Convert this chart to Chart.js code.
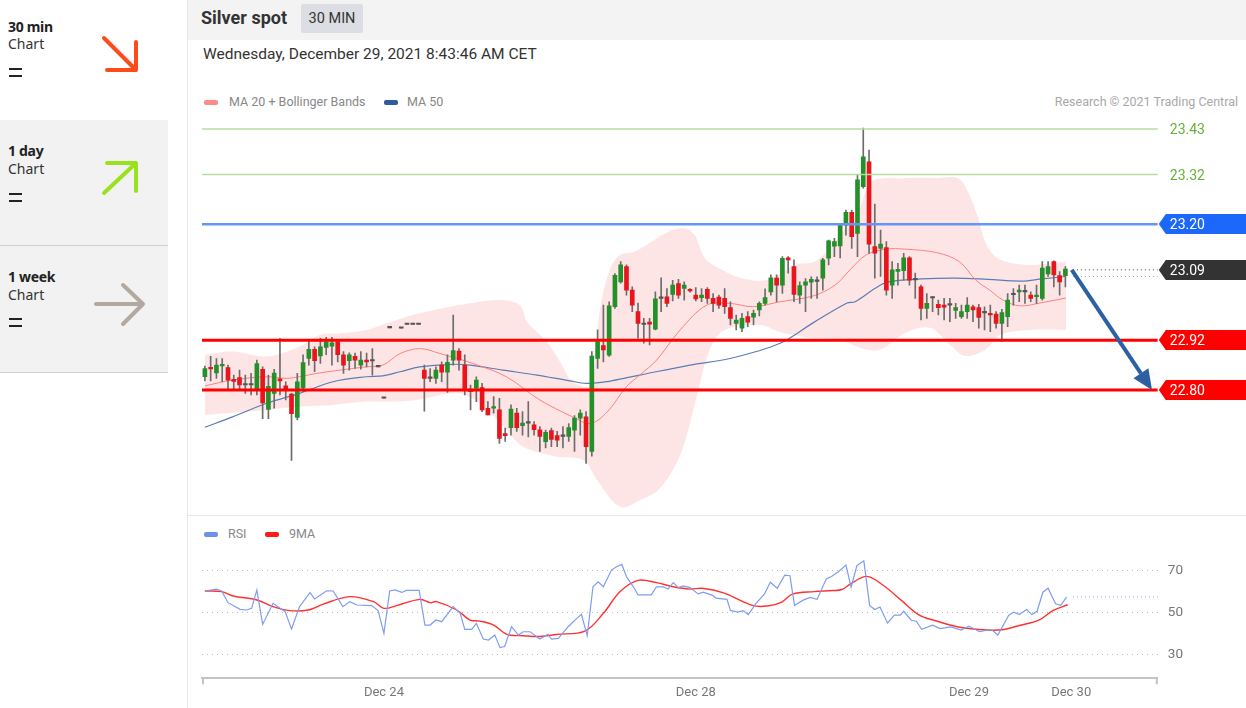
<!DOCTYPE html>
<html>
<head>
<meta charset="utf-8">
<script src="https://cdn.jsdelivr.net/npm/chart.js@4.4.1/dist/chart.umd.min.js"></script>
<style>
html, body { margin: 0; padding: 0; background: #fff; width: 1246px; height: 708px; overflow: hidden; font-family: Roboto, "Liberation Sans", sans-serif; }
.abs { position: absolute; }
.side { left: 0; width: 168px; }
.tf-name { left: 8px; font: bold 14px "Noto Sans", sans-serif; color: #222; letter-spacing: -0.3px; }
.tf-sub { left: 8px; font: 14px "Noto Sans", sans-serif; color: #333; }
.eq { left: 9px; width: 13px; height: 2px; background: #222; }
.sw { width: 14px; height: 5px; border-radius: 2px; }
.leg { font-size: 12.5px; color: #888; }
</style>
</head>
<body>
<!-- left timeframe panel -->
<div class="abs side" style="top:0;height:120px;background:#fff"></div>
<div class="abs side" style="top:120px;height:125px;background:#f2f2f2;border-bottom:1px solid #cfcfcf"></div>
<div class="abs side" style="top:246px;height:126px;background:#f2f2f2;border-bottom:1px solid #cfcfcf"></div>

<div class="abs tf-name" style="top:17px">30 min</div>
<div class="abs tf-sub" style="top:34px">Chart</div>
<div class="abs eq" style="top:68px"></div><div class="abs eq" style="top:75px"></div>

<div class="abs tf-name" style="top:141px">1 day</div>
<div class="abs tf-sub" style="top:159px">Chart</div>
<div class="abs eq" style="top:193px"></div><div class="abs eq" style="top:200px"></div>

<div class="abs tf-name" style="top:267px">1 week</div>
<div class="abs tf-sub" style="top:285px">Chart</div>
<div class="abs eq" style="top:318px"></div><div class="abs eq" style="top:325px"></div>

<svg class="abs" style="left:0;top:0" width="168" height="372">
  <g fill="none" stroke-width="4" stroke-linecap="round" stroke-linejoin="round">
    <path d="M104 38 L136 70 M136 42 L136 70 L107 70" stroke="#ff4a1c"/>
    <path d="M104 193 L136 163 M107 163 L136 163 L136 191" stroke="#9ae21d"/>
    <path d="M96 304 L143 304 M123 285 L143 304 L123 324" stroke="#b3a99f"/>
  </g>
</svg>

<div class="abs" style="left:187px;top:0;width:1px;height:708px;background:#e6e6e6"></div>

<!-- header -->
<div class="abs" style="left:188px;top:0;width:1058px;height:40px;background:#f3f3f3"></div>
<div class="abs" style="left:201px;top:7px;font-weight:bold;font-size:18px;color:#333">Silver spot</div>
<div class="abs" style="left:301px;top:4px;width:62px;height:29px;background:#dcdee3;border-radius:2px;font-size:14.5px;color:#333;text-align:center;line-height:29px">30 MIN</div>
<div class="abs" style="left:203px;top:45px;font-size:15.5px;color:#333">Wednesday, December 29, 2021 8:43:46 AM CET</div>

<!-- price legend -->
<div class="abs sw" style="left:204px;top:100px;background:#ff8a8a"></div>
<div class="abs leg" style="left:229px;top:94px">MA 20 + Bollinger Bands</div>
<div class="abs sw" style="left:384px;top:100px;background:#2f5a9e"></div>
<div class="abs leg" style="left:407px;top:94px">MA 50</div>
<div class="abs leg" style="right:8px;top:94px;color:#a8a8a8">Research © 2021 Trading Central</div>

<canvas id="price" class="abs" style="left:188px;top:112px" width="1058" height="403"></canvas>

<div class="abs" style="left:188px;top:515px;width:1058px;height:1px;background:#e8e8e8"></div>

<!-- rsi legend -->
<div class="abs sw" style="left:204px;top:532px;background:#6d8ff0"></div>
<div class="abs leg" style="left:228px;top:526px">RSI</div>
<div class="abs sw" style="left:265px;top:532px;background:#ff1a1a"></div>
<div class="abs leg" style="left:289px;top:526px">9MA</div>

<canvas id="rsi" class="abs" style="left:188px;top:515px" width="1058" height="193"></canvas>

<script>
// 30 min candles, one slot per bar (slot 33 has no bar)
const opens = [22.832,22.855,22.841,22.858,22.854,22.826,22.830,22.812,22.812,22.800,
  22.850,22.753,22.792,22.827,22.810,22.790,22.734,22.805,22.876,22.898,
  22.882,22.903,22.906,22.916,22.885,22.871,22.881,22.860,22.872,22.870,
  22.856,22.780,22.950,null,22.949,22.958,22.958,22.958,22.848,22.828,
  22.828,22.860,22.843,22.872,22.894,22.860,22.802,22.804,22.806,22.756,
  22.756,22.752,22.695,22.709,22.744,22.714,22.720,22.716,22.704,22.675,
  22.702,22.690,22.688,22.688,22.703,22.732,22.735,22.652,22.876,22.907,
  22.884,23.001,23.061,23.098,23.041,22.989,22.958,22.964,22.947,23.021,
  23.025,23.031,23.057,23.045,23.043,23.029,23.023,23.043,23.021,23.024,
  23.021,22.999,22.961,22.949,22.977,22.976,22.993,23.009,23.037,23.070,
  23.053,23.119,23.098,23.029,23.053,23.060,23.062,23.070,23.118,23.147,
  23.148,23.198,23.229,23.178,23.291,23.351,23.146,23.142,23.144,23.053,
  23.086,23.088,23.119,23.066,23.049,22.997,23.022,23.007,23.005,23.005,
  22.992,22.977,22.989,23.001,22.999,22.986,22.985,22.983,22.961,22.977,
  23.030,23.037,23.037,23.029,23.025,23.021,23.080,23.110,23.076,23.076];
const highs = [22.858,22.881,22.876,22.876,22.860,22.836,22.848,22.836,22.840,22.872,
  22.856,22.836,22.850,22.925,22.820,22.792,22.840,22.885,22.921,22.904,
  22.925,22.927,22.927,22.919,22.893,22.890,22.889,22.893,22.889,22.900,
  22.856,22.780,22.950,null,22.949,22.958,22.958,22.958,22.860,22.852,
  22.856,22.868,22.885,22.981,22.900,22.885,22.812,22.832,22.816,22.772,
  22.784,22.780,22.708,22.764,22.756,22.748,22.772,22.724,22.712,22.703,
  22.708,22.700,22.712,22.719,22.738,22.752,22.748,22.893,22.945,23.005,
  23.013,23.081,23.110,23.102,23.049,23.010,22.973,22.973,23.037,23.071,
  23.045,23.065,23.067,23.061,23.045,23.047,23.045,23.047,23.033,23.029,
  23.045,23.013,22.981,22.985,22.989,22.993,23.013,23.044,23.078,23.078,
  23.122,23.122,23.114,23.061,23.069,23.073,23.073,23.118,23.162,23.166,
  23.202,23.234,23.234,23.319,23.432,23.379,23.249,23.186,23.158,23.110,
  23.106,23.130,23.122,23.082,23.053,23.033,23.025,23.017,23.021,23.021,
  23.009,23.005,23.023,23.005,23.007,23.001,23.005,22.989,22.995,23.033,
  23.045,23.053,23.053,23.037,23.053,23.110,23.110,23.112,23.086,23.098];
const lows = [22.822,22.822,22.828,22.820,22.802,22.802,22.802,22.792,22.788,22.788,
  22.731,22.731,22.756,22.788,22.776,22.630,22.728,22.796,22.860,22.844,
  22.864,22.885,22.860,22.868,22.840,22.848,22.852,22.850,22.856,22.836,
  22.856,22.780,22.950,null,22.949,22.958,22.958,22.958,22.749,22.820,
  22.816,22.820,22.794,22.860,22.848,22.788,22.752,22.772,22.748,22.740,
  22.744,22.671,22.676,22.691,22.700,22.691,22.687,22.691,22.652,22.660,
  22.663,22.663,22.660,22.676,22.652,22.691,22.623,22.640,22.852,22.868,
  22.881,22.997,23.058,23.029,22.989,22.925,22.913,22.909,22.945,22.989,
  23.001,23.015,23.021,23.017,23.036,23.015,23.013,23.009,22.989,22.997,
  22.985,22.957,22.945,22.941,22.953,22.957,22.979,23.005,23.029,23.013,
  23.033,23.082,23.013,23.009,22.989,23.021,23.021,23.041,23.102,23.122,
  23.119,23.174,23.142,23.122,23.287,23.130,23.070,23.074,23.029,23.021,
  23.053,23.065,23.053,23.021,22.969,22.973,22.989,22.981,22.969,22.965,
  22.973,22.973,22.973,22.965,22.949,22.945,22.941,22.949,22.917,22.953,
  23.005,23.013,23.009,23.013,23.009,23.017,23.074,23.049,23.029,23.049];
const closes = [22.852,22.851,22.860,22.862,22.824,22.821,22.812,22.812,22.812,22.864,
  22.769,22.809,22.841,22.822,22.802,22.743,22.820,22.866,22.898,22.871,
  22.904,22.916,22.914,22.885,22.860,22.885,22.872,22.872,22.868,22.870,
  22.856,22.780,22.950,null,22.949,22.958,22.958,22.958,22.828,22.828,
  22.848,22.843,22.867,22.895,22.872,22.802,22.796,22.824,22.752,22.740,
  22.760,22.683,22.690,22.754,22.709,22.720,22.720,22.704,22.688,22.698,
  22.681,22.679,22.688,22.709,22.732,22.744,22.663,22.882,22.916,22.897,
  23.003,23.077,23.102,23.041,23.005,22.961,22.958,22.959,23.020,23.021,
  23.009,23.053,23.029,23.053,23.039,23.020,23.029,23.021,23.009,23.005,
  23.001,22.973,22.969,22.973,22.964,22.985,23.009,23.023,23.071,23.053,
  23.118,23.114,23.031,23.052,23.061,23.067,23.062,23.114,23.160,23.158,
  23.198,23.229,23.170,23.307,23.363,23.152,23.130,23.152,23.041,23.090,
  23.091,23.119,23.065,23.066,22.997,23.009,23.022,22.999,23.000,23.005,
  22.999,22.989,23.005,22.993,22.975,22.986,22.981,22.961,22.987,23.017,
  23.030,23.041,23.037,23.021,23.029,23.094,23.098,23.078,23.061,23.092];

// MA 20 with Bollinger Bands, MA 50 (slot, price)
const upperSlots = [0,4.8,10.7,16.4,19.9,23.4,28,31.5,35,37.2,44.2,51.1,54.5,55.8,59.2,61.5,63.7,66.7,68.4,70.1,71.9,74.5,80.2,83.1,84.8,86.6,89.5,92.9,97.5,102.2,105.6,109.1,111.3,113.4,115.4,121.2,126.9,130.4,132.1,133.9,135.1,137.3,142.5,149.1];
const upperBand = [22.885,22.893,22.881,22.905,22.933,22.937,22.945,22.961,22.977,22.985,23.005,23.017,23.005,22.965,22.916,22.868,22.820,22.812,22.993,23.090,23.126,23.134,23.182,23.190,23.174,23.118,23.090,23.070,23.066,23.102,23.110,23.158,23.198,23.239,23.303,23.311,23.312,23.311,23.279,23.215,23.158,23.118,23.102,23.110];
const lowerSlots = [0,4.8,10.7,16.4,22.2,28,32,36.7,43.6,47.6,52.3,55.1,61,65.5,67.9,71.9,75.3,78.8,82.3,84.8,87.4,90,96.1,99.6,104.8,110,113.4,116.9,121.2,125.5,129,131.6,135.1,137.7,142.9,149.1];
const lowerBand = [22.740,22.745,22.752,22.760,22.764,22.772,22.772,22.776,22.792,22.768,22.703,22.663,22.639,22.631,22.583,22.518,22.534,22.563,22.643,22.764,22.897,22.945,22.957,22.940,22.926,22.921,22.902,22.897,22.937,22.950,22.909,22.882,22.897,22.933,22.945,22.945];
const ma20Slots = [0,4.8,10.7,14.1,16.4,19.3,23.4,28,30.8,33.8,37.2,40.7,46.4,52.2,58,63.7,66.7,69.6,73,75.3,78.2,82.3,86.9,90.9,94.9,99.6,105.3,109.1,111.7,114.5,117.9,121.2,126.9,130.7,133.5,135.9,138.2,141.1,144.6,149.1];
const ma20 = [22.810,22.824,22.832,22.828,22.832,22.840,22.848,22.856,22.860,22.888,22.900,22.888,22.864,22.832,22.776,22.735,22.719,22.746,22.808,22.836,22.872,22.945,23.005,23.009,23.001,23.013,23.027,23.053,23.090,23.126,23.140,23.140,23.131,23.109,23.065,23.041,23.017,23.003,23.010,23.022];
const ma50Slots = [0,4.8,10.7,16.4,22.2,28,30.8,33.8,37.2,42.9,45.9,51.6,57.5,63.2,66.1,69.6,73.1,75.3,84,90.9,99.6,105.3,111.2,112.6,116,118.3,124.1,129.9,135.6,141.4,144.9,149];
const ma50 = [22.710,22.735,22.768,22.792,22.820,22.832,22.834,22.844,22.856,22.862,22.860,22.848,22.836,22.822,22.816,22.820,22.830,22.836,22.860,22.876,22.913,22.962,23.010,23.013,23.045,23.061,23.068,23.070,23.067,23.063,23.068,23.074];

// key levels
const resistanceLevels = [23.43, 23.32];
const pivotLevel = 23.20;
const lastPrice = 23.09;
const supportLevels = [22.92, 22.80];
const arrowFrom = [150.1, 23.09];
const arrowTo = [164, 22.80];

// RSI panel
const rsiSlots = [0,2,2.9,4,6.1,7.2,8.1,9,10,11.8,13.9,15,16.4,18.2,19,21.1,22.2,23.9,25.1,26.3,28.9,30,31,32,32.9,34.1,34.9,37.1,38.1,39,40,41,43,44.2,45,46.2,47,48.2,49.1,50.2,51.1,51.9,53.1,54.3,55.1,56.3,58,59.4,60,61.2,62.9,64.4,65.2,66.2,67.2,68.1,69,70.4,71.3,72.2,73,74.2,75,77.3,78.2,79.4,80.2,81.1,82,82.8,84,85.4,86.3,87.9,88.5,90.4,91,92.3,93.2,94.1,95.4,96.9,97.9,99.1,100.4,101.3,102.1,103.5,104.8,106,107.6,108.5,109.7,111,111.9,112.9,114.1,115.1,116,116.9,118.2,119.4,120.4,121,122.3,123.2,124.1,126,127.3,129.1,131,132.3,134.1,135.4,136.3,137.3,139.2,140.1,141,142.3,143.2,144.1,145.1,146,147.3,148.2,149.2];
const rsiValues = [60.3,61.2,60.3,54.7,51.5,51.2,52.0,60.8,44.3,54.4,50.4,42.1,52.8,59.6,56.5,60.4,60.3,52.8,55.2,53.6,53.3,50.9,40.0,60.3,60.8,59.6,60.6,60.6,44.0,44.0,46.4,45.6,52.8,49.6,41.9,41.9,44.8,37.3,36.8,39.2,33.2,33.7,43.2,39.2,40.8,40.8,37.3,39.6,37.3,37.6,43.2,47.2,49.1,38.9,62.3,64.7,62.3,70.3,71.9,73.0,67.1,62.3,58.4,58.4,62.3,62.3,61.2,64.3,61.9,62.7,61.9,58.9,59.7,58.2,56.9,56.3,51.0,50.2,50.9,49.0,54.2,58.9,64.5,61.6,67.9,67.6,53.4,55.8,57.2,56.3,66.1,67.2,69.5,72.7,62.1,72.4,74.7,53.4,51.4,52.6,45.0,48.7,48.7,50.6,46.3,45.8,42.0,43.9,42.3,43.1,41.6,43.5,40.8,41.6,41.6,39.2,48.7,50.2,49.0,51.4,49.0,50.6,59.7,61.6,54.2,53.4,57.4];
const rsiMaSlots = [0,2.9,4.9,9,11.8,14.7,17.9,20.5,25.1,29.2,31,33.2,37.2,39,40.1,43.6,45.9,47.6,50,52.3,55.1,58,60.9,65.8,69,71.9,75,78.2,81.1,84,86.1,89.8,94.8,97.4,99.9,101.8,105.5,108.7,110.3,111.8,114.6,117.5,120.6,123.7,126.2,131.2,137.5,141.2,144.4,146.9,149.4];
const rsiMa = [60.3,60.0,57.9,56.0,52.8,50.9,51.2,54.0,57.6,55.2,52.0,53.3,56.3,54.7,55.2,51.2,46.4,45.9,44.0,39.5,38.9,38.5,39.5,41.1,49.6,60.0,65.4,64.3,62.3,61.2,61.6,59.4,53.4,53.1,55.0,58.9,60.0,60.5,61.0,63.7,67.3,62.9,55.8,48.7,46.3,42.7,41.6,43.9,46.3,51.0,53.7];
const rsiLevels = [30, 50, 70];

const dayTicks = [31, 85, 132.3, 150];
const dayLabels = ['Dec 24', 'Dec 28', 'Dec 29', 'Dec 30'];

const X_MIN = -0.5, X_MAX = 165;

function pts(xs, ys) { return xs.map((x, i) => ({x: x, y: ys[i]})); }
function hline(v, color, width, dash, from) {
  return {
    type: 'line', data: [{x: from === undefined ? X_MIN : from, y: v}, {x: X_MAX, y: v}],
    borderColor: color, borderWidth: width, borderDash: dash || [], pointRadius: 0, order: 5
  };
}

const wickData = [], bodyData = [], bodyColors = [];
for (let i = 0; i < opens.length; i++) {
  if (opens[i] === null) continue;
  wickData.push({x: i, y: [lows[i], highs[i]]});
  bodyData.push({x: i, y: [opens[i], closes[i]]});
  bodyColors.push(closes[i] > opens[i] ? '#23902a' : closes[i] < opens[i] ? '#e8151c' : '#555555');
}

const tagStyle = {};
tagStyle[pivotLevel] = {box: '#1d67fb'};
tagStyle[lastPrice] = {box: '#333333'};
supportLevels.forEach(v => tagStyle[v] = {box: '#ff0000'});
resistanceLevels.forEach(v => tagStyle[v] = {text: '#67b23a'});

const priceTags = {
  id: 'priceTags',
  afterDatasetsDraw(chart) {
    const {ctx, chartArea, scales} = chart;
    const left = chartArea.right + 1;
    ctx.save();
    ctx.font = '14px Roboto, sans-serif';
    ctx.textBaseline = 'middle';
    [...resistanceLevels, pivotLevel, lastPrice, ...supportLevels].forEach(v => {
      const y = Math.round(scales.y.getPixelForValue(v));
      const st = tagStyle[v];
      if (st.box) {
        ctx.fillStyle = st.box;
        ctx.beginPath();
        ctx.moveTo(left, y);
        ctx.lineTo(left + 7, y - 10);
        ctx.lineTo(chart.width, y - 10);
        ctx.lineTo(chart.width, y + 10);
        ctx.lineTo(left + 7, y + 10);
        ctx.closePath();
        ctx.fill();
        ctx.fillStyle = '#fff';
      } else {
        ctx.fillStyle = st.text;
      }
      ctx.fillText(v.toFixed(2), left + 11, y + 1);
    });
    // forecast arrow
    const x0 = scales.x.getPixelForValue(arrowFrom[0]), y0 = scales.y.getPixelForValue(arrowFrom[1]);
    const x1 = scales.x.getPixelForValue(arrowTo[0]), y1 = scales.y.getPixelForValue(arrowTo[1]);
    const ang = Math.atan2(y1 - y0, x1 - x0);
    const hx = x1 - 20 * Math.cos(ang), hy = y1 - 20 * Math.sin(ang);
    ctx.strokeStyle = '#2d5fa3';
    ctx.fillStyle = '#2d5fa3';
    ctx.lineWidth = 4;
    ctx.beginPath(); ctx.moveTo(x0, y0); ctx.lineTo(hx, hy); ctx.stroke();
    ctx.beginPath();
    ctx.moveTo(x1, y1);
    ctx.lineTo(hx + 9 * Math.sin(ang), hy - 9 * Math.cos(ang));
    ctx.lineTo(hx - 9 * Math.sin(ang), hy + 9 * Math.cos(ang));
    ctx.closePath(); ctx.fill();
    ctx.restore();
  }
};

new Chart(document.getElementById('price'), {
  type: 'bar',
  data: {
    datasets: [
      {type: 'line', data: pts(upperSlots, upperBand), borderWidth: 0, pointRadius: 0, fill: '+1',
        backgroundColor: 'rgba(250,80,80,0.15)', tension: 0.35, order: 20},
      {type: 'line', data: pts(lowerSlots, lowerBand), borderWidth: 0, pointRadius: 0, fill: false,
        tension: 0.35, order: 20},
      {type: 'line', data: pts(ma20Slots, ma20), borderColor: '#ff8080', borderWidth: 1, pointRadius: 0,
        tension: 0.35, order: 15},
      {type: 'line', data: pts(ma50Slots, ma50), borderColor: '#5a7db5', borderWidth: 1.2, pointRadius: 0,
        tension: 0.35, order: 15},
      {data: wickData, backgroundColor: '#6c6c6c', barThickness: 1, grouped: false, order: 10},
      {data: bodyData, backgroundColor: bodyColors, barThickness: 4, minBarLength: 1.5, grouped: false, order: 9},
      ...resistanceLevels.map(v => hline(v, '#b7dca0', 1.5)),
      hline(pivotLevel, '#6496f3', 2.5),
      ...supportLevels.map(v => hline(v, '#ff0000', 3)),
      hline(lastPrice, '#444', 1, [1, 3], 150.3),
      hline(ma50[ma50.length - 1], '#7f9de0', 1, [1, 3], 150.3)
    ]
  },
  options: {
    responsive: false, animation: false, devicePixelRatio: 1,
    layout: {padding: {left: 14, right: 88.2, top: 0, bottom: 0}},
    plugins: {legend: {display: false}, tooltip: {enabled: false}},
    scales: {
      x: {type: 'linear', min: X_MIN, max: X_MAX, offset: false, display: false},
      y: {min: 22.4983, max: 23.471, display: false}
    }
  },
  plugins: [priceTags]
});

const axisEnds = {
  id: 'axisEnds',
  afterDraw(chart) {
    const {ctx, chartArea} = chart;
    ctx.save();
    ctx.strokeStyle = '#c4c4c4';
    ctx.lineWidth = 2;
    ctx.beginPath();
    ctx.moveTo(chartArea.left + 1, chartArea.bottom); ctx.lineTo(chartArea.left + 1, chartArea.bottom + 6);
    ctx.moveTo(chartArea.right - 1, chartArea.bottom); ctx.lineTo(chartArea.right - 1, chartArea.bottom + 6);
    ctx.stroke();
    ctx.restore();
  }
};

new Chart(document.getElementById('rsi'), {
  type: 'line',
  data: {
    datasets: [
      {data: pts(rsiSlots, rsiValues), borderColor: '#7e9df0', borderWidth: 1.2, pointRadius: 0, tension: 0},
      {data: pts(rsiMaSlots, rsiMa), borderColor: '#ff3030', borderWidth: 1.4, pointRadius: 0, tension: 0.35},
      {data: [{x: 150.3, y: rsiValues[rsiValues.length - 1]}, {x: X_MAX, y: rsiValues[rsiValues.length - 1]}],
        borderColor: '#7e9df0', borderWidth: 1, borderDash: [1, 3], pointRadius: 0}
    ]
  },
  options: {
    responsive: false, animation: false, devicePixelRatio: 1,
    layout: {padding: {left: 14, right: 0, top: 34.8, bottom: 0}},
    plugins: {legend: {display: false}, tooltip: {enabled: false}},
    scales: {
      x: {
        type: 'linear', min: X_MIN, max: X_MAX,
        grid: {display: false, drawTicks: false},
        border: {display: true, color: '#c4c4c4', width: 2},
        afterBuildTicks: axis => { axis.ticks = dayTicks.map(v => ({value: v})); },
        afterFit: axis => { axis.height = 29.7; },
        ticks: {autoSkip: false, maxRotation: 0, padding: 7, color: '#777',
          font: {family: 'Roboto', size: 13}, callback: (v, i) => dayLabels[i]}
      },
      y: {
        position: 'right', min: 18.52, max: 80,
        grid: {color: '#bdbdbd', drawTicks: false, lineWidth: 1},
        border: {display: false, dash: [1, 4]},
        afterBuildTicks: axis => { axis.ticks = rsiLevels.map(v => ({value: v})); },
        afterFit: axis => { axis.width = 88.2; },
        ticks: {padding: 10, color: '#777', font: {family: 'Roboto', size: 13.5}}
      }
    }
  },
  plugins: [axisEnds]
});
</script>
</body>
</html>
